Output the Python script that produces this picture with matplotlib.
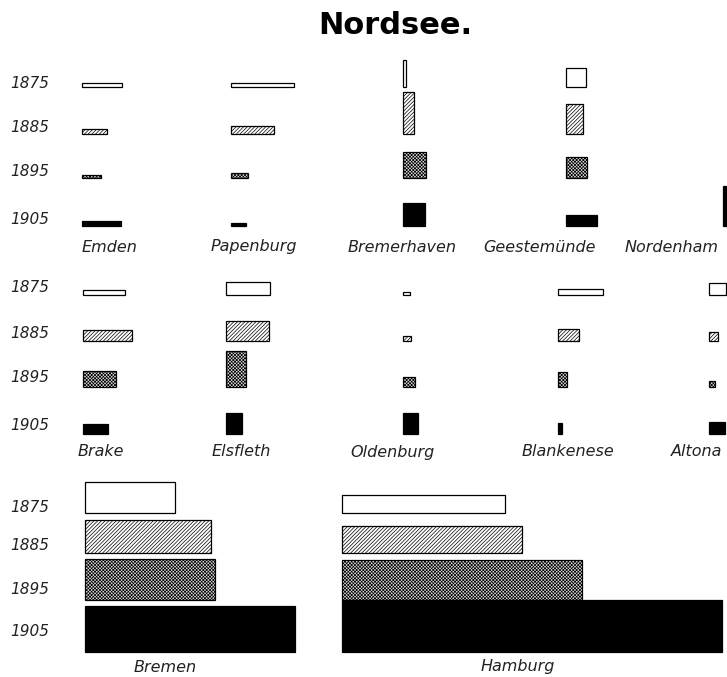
import matplotlib
matplotlib.use("Agg")
import matplotlib.pyplot as plt

# ------------------------- #
#            DATA           #
# ------------------------- #

years = ["1875", "1885", "1895", "1905"]

# row 1 ports
ports_row1 = ["Emden", "Papenburg", "Bremerhaven", "Geestemünde", "Nordenham"]
widths_row1 = [
    [40, 25, 19, 39],
    [63, 43, 17, 15],
    [3, 11, 23, 22],
    [20, 17, 21, 31],
    [0, 0, 0, 6],
]
heights_row1 = [
    [4, 4.5, 3.5, 4.5],
    [4.5, 8, 5, 3],
    [27, 42, 26, 23],
    [19, 30, 21, 11],
    [0, 0, 0, 40],
]

# row 2 ports
ports_row2 = ["Brake", "Elsfleth", "Oldenburg", "Blankenese", "Altona"]
widths_row2 = [
    [42, 49, 33, 25],
    [44, 43, 20, 16],
    [7, 8, 12, 15],
    [45, 21, 9, 4],
    [17, 9, 6, 16],
]
heights_row2 = [
    [5, 11, 16, 10],
    [13, 20, 36, 21],
    [3, 5, 10, 21],
    [6, 12, 15, 11],
    [12, 9, 6, 12],
]

# row 3 ports
ports_row3 = ["Bremen", "Hamburg"]
widths_row3 = [
    [90, 126, 130, 210],
    [163, 180, 240, 380],
]
heights_row3 = [
    [31, 33, 41, 46],
    [18, 27, 40, 52],
]

# ------------------------- #
#           LAYOUT          #
# ------------------------- #

rows = [
    dict(ports=ports_row1, w=widths_row1, h=heights_row1,
         col_x=[82, 231, 403, 566, 723],
         base_y=[87, 133.5, 178, 225.5],
         year_y=[83, 128, 172, 220],
         label_x=[110, 254, 402, 540, 672], label_y=247),
    dict(ports=ports_row2, w=widths_row2, h=heights_row2,
         col_x=[83, 226, 403, 558, 709],
         base_y=[295, 341, 386.5, 434],
         year_y=[288, 333, 377, 425],
         label_x=[101, 241, 392, 568, 697], label_y=452),
    dict(ports=ports_row3, w=widths_row3, h=heights_row3,
         col_x=[85, 342],
         base_y=[513, 553, 600, 652],
         year_y=[507, 546, 590, 631],
         label_x=[165, 518], label_y=667),
]

# fill style per year: white, hatched, stippled, black
styles = [
    dict(facecolor="white", hatch=None),
    dict(facecolor="white", hatch="/////////"),
    dict(facecolor="#d8d8d8", hatch="xxxxxxxxxx"),
    dict(facecolor="black", hatch=None),
]

plt.rcParams["hatch.linewidth"] = 0.5

fig = plt.figure(figsize=(7.27, 6.77), dpi=100)
ax = fig.add_axes([0, 0, 1, 1])
ax.set_xlim(0, 727)
ax.set_ylim(677, 0)
ax.axis("off")

ax.text(395, 26, "Nordsee.", ha="center", va="center",
        fontsize=22, fontweight="bold", family="DejaVu Sans")

for row in rows:
    for yi, yr in enumerate(years):
        ax.text(10, row["year_y"][yi], yr, ha="left", va="center",
                fontsize=11, style="italic", color="#222222")
    for pi, port in enumerate(row["ports"]):
        for yi in range(len(years)):
            w = row["w"][pi][yi]
            h = row["h"][pi][yi]
            if w <= 0 or h <= 0:
                continue
            st = styles[yi]
            ax.bar(row["col_x"][pi], -h, width=w, bottom=row["base_y"][yi],
                   align="edge", facecolor=st["facecolor"], hatch=st["hatch"],
                   edgecolor="black", linewidth=0.9)
        ax.text(row["label_x"][pi], row["label_y"], port, ha="center",
                va="center", fontsize=11.5, style="italic", color="#222222")

fig.savefig("out.png", dpi=100)
